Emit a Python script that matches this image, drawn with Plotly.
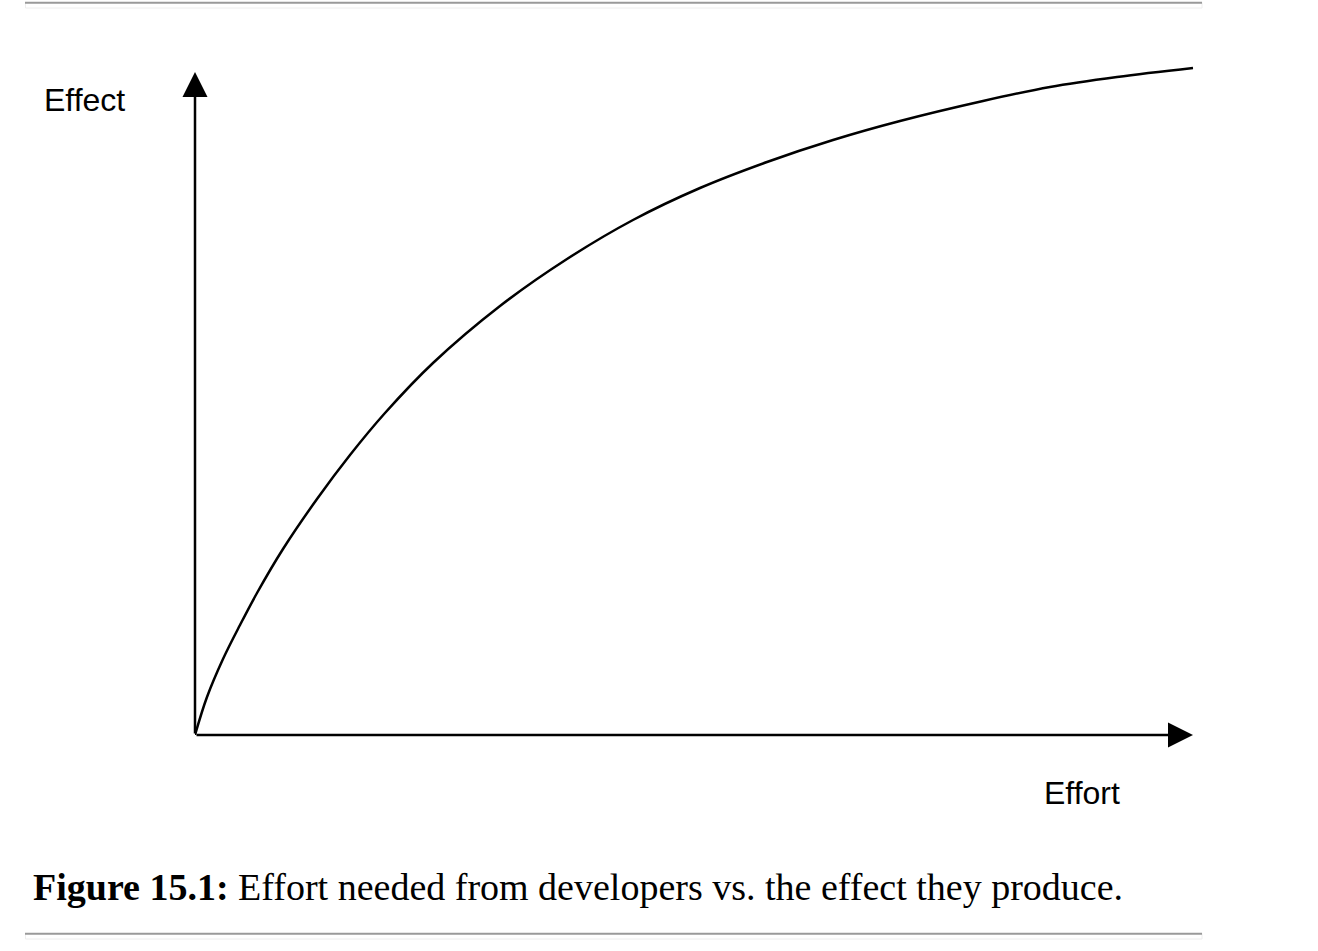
import plotly.graph_objects as go

W, H = 1318, 951

# Data (effort vs effect, arbitrary units)
effort = [0, 1.2, 2.8, 4.5, 6.2, 8.8, 12.2, 15.5, 19.0, 23.8, 30.5, 37.2, 43.8,
          50.5, 57.2, 63.8, 70.5, 78.8, 85.5, 92.2, 99.8]
effect = [0, 3.8, 7.6, 11.0, 14.2, 18.6, 23.6, 28.0, 32.2, 37.2, 42.9, 47.6, 51.5,
          54.7, 57.3, 59.5, 61.4, 63.4, 64.8, 65.8, 66.7]
x_label = "Effort"
y_label = "Effect"
caption_bold = "Figure 15.1:"
caption_text = " Effort needed from developers vs. the effect they produce."

X_MAX, Y_MAX = 100, 67


def px(x):
    return x / W


def py(y):
    return 1 - y / H


fig = go.Figure()
fig.add_trace(go.Scatter(
    x=effort, y=effect, mode="lines",
    line=dict(color="black", width=2.5, shape="spline", smoothing=1.0),
    hoverinfo="skip", showlegend=False,
))

axis_common = dict(showgrid=False, zeroline=False, showticklabels=False,
                   ticks="", showline=False, fixedrange=True)
fig.update_layout(
    width=W, height=H,
    margin=dict(l=0, r=0, t=0, b=0),
    paper_bgcolor="white", plot_bgcolor="white",
    xaxis=dict(range=[0, X_MAX], domain=[px(195), px(1195)], **axis_common),
    yaxis=dict(range=[0, Y_MAX], domain=[py(735), py(65)], **axis_common),
    showlegend=False,
)

# Axes with arrowheads
fig.add_annotation(x=99.8, y=0, ax=0, ay=0, xref="x", yref="y", axref="x", ayref="y",
                   text="", showarrow=True, arrowhead=2, arrowsize=2.0, arrowwidth=2.5,
                   arrowcolor="black", standoff=0)
fig.add_annotation(x=0, y=66.3, ax=0, ay=0, xref="x", yref="y", axref="x", ayref="y",
                   text="", showarrow=True, arrowhead=2, arrowsize=2.0, arrowwidth=2.5,
                   arrowcolor="black", standoff=0)

# Axis labels
fig.add_annotation(x=px(84), y=py(100), xref="paper", yref="paper", text=y_label,
                   showarrow=False, xanchor="center", yanchor="middle",
                   font=dict(family="Liberation Sans, Arial, sans-serif", size=32, color="black"))
fig.add_annotation(x=px(1082), y=py(793), xref="paper", yref="paper", text=x_label,
                   showarrow=False, xanchor="center", yanchor="middle",
                   font=dict(family="Liberation Sans, Arial, sans-serif", size=32, color="black"))

# Caption
fig.add_annotation(x=px(31), y=py(887), xref="paper", yref="paper",
                   text="<b>" + caption_bold + "</b>" + caption_text,
                   showarrow=False, xanchor="left", yanchor="middle",
                   font=dict(family="Liberation Serif, Times New Roman, serif", size=38, color="black"))

# Horizontal rules (top and bottom)
for top in (2, 933):
    fig.add_shape(type="rect", xref="paper", yref="paper",
                  x0=px(25.5), x1=px(1202), y0=py(top + 0.5), y1=py(top + 6),
                  line=dict(color="#eeeeee", width=1), fillcolor="rgba(0,0,0,0)")
    fig.add_shape(type="line", xref="paper", yref="paper",
                  x0=px(25), x1=px(1202), y0=py(top + 0.7), y1=py(top + 0.7),
                  line=dict(color="#9a9a9a", width=2))

fig.write_html("out.html",
               config={"displayModeBar": False},
               post_script="document.body.style.margin='0';document.body.style.overflow='hidden';")
